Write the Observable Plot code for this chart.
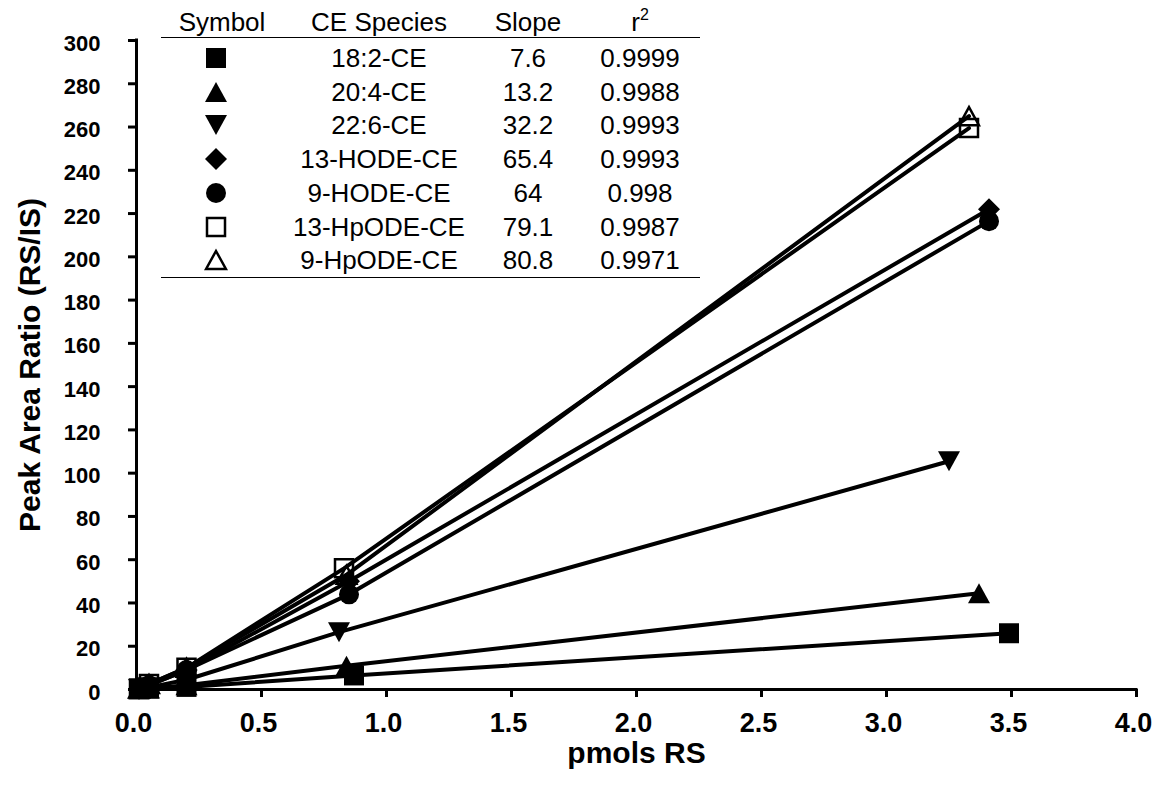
<!DOCTYPE html>
<html>
<head>
<meta charset="utf-8">
<script src="https://cdn.jsdelivr.net/npm/d3@7"></script>
<script src="https://cdn.jsdelivr.net/npm/@observablehq/plot@0.6"></script>
<style>
  body { margin: 0; background: #fff; font-family: "Liberation Sans", Arial, sans-serif; }
  #wrap { position: relative; width: 1164px; height: 787px; overflow: hidden; }
  #legend { position: absolute; left: 0; top: 0; width: 1164px; height: 300px; pointer-events: none; }
  .cell { position: absolute; transform: translate(-50%, -50%); font-size: 26px; color: #000; white-space: nowrap; line-height: 1; }
  .rule { position: absolute; height: 0; border-top: 1.5px solid #000; }
  .cell sup { font-size: 16px; position: relative; top: -2px; vertical-align: top; }
</style>
</head>
<body>
<div id="wrap"><div id="legend"></div></div>
<script>
// ---------- data ----------
const species = ["18:2-CE", "20:4-CE", "22:6-CE", "13-HODE-CE", "9-HODE-CE", "13-HpODE-CE", "9-HpODE-CE"];
const slopes  = ["7.6", "13.2", "32.2", "65.4", "64", "79.1", "80.8"];
const r2      = ["0.9999", "0.9988", "0.9993", "0.9993", "0.998", "0.9987", "0.9971"];
const markerKinds = ["square", "triUp", "triDown", "diamond", "circle", "square", "triUp"];
const markerFilled = [true, true, true, true, true, false, false];

// pmols RS (x) per species
const amounts = [
  [0.01, 0.05, 0.20, 0.87, 3.49],
  [0.01, 0.05, 0.20, 0.84, 3.37],
  [0.01, 0.05, 0.20, 0.81, 3.25],
  [0.01, 0.05, 0.20, 0.85, 3.41],
  [0.01, 0.05, 0.20, 0.85, 3.41],
  [0.01, 0.05, 0.20, 0.83, 3.33],
  [0.01, 0.05, 0.20, 0.84, 3.33]
];
// Peak area ratio (y) per species
const ratios = [
  [0.1, 0.4, 1.2, 6.5, 26.0],
  [0.1, 0.5, 2.0, 11.0, 44.5],
  [0.2, 1.0, 4.5, 26.5, 105.5],
  [0.4, 2.0, 9.0, 50.0, 222.0],
  [0.4, 2.0, 9.0, 44.0, 216.5],
  [0.5, 2.5, 10.0, 56.0, 259.5],
  [0.5, 2.5, 10.0, 53.0, 265.0]
];
const xTicks = [0, 0.5, 1, 1.5, 2, 2.5, 3, 3.5, 4];
const yTicks = d3.range(0, 301, 20);

// ---------- symbols ----------
const rOf = s => Math.sqrt(s / Math.PI);
const symbols = {
  square:  { draw(c, s) { const r = rOf(s); c.rect(-r, -r, 2 * r, 2 * r); } },
  triUp:   { draw(c, s) { const r = rOf(s); c.moveTo(0, -r); c.lineTo(1.1 * r, r); c.lineTo(-1.1 * r, r); c.closePath(); } },
  triDown: { draw(c, s) { const r = rOf(s); c.moveTo(0, r); c.lineTo(1.1 * r, -r); c.lineTo(-1.1 * r, -r); c.closePath(); } },
  diamond: { draw(c, s) { const r = rOf(s) * 1.1; c.moveTo(0, -r); c.lineTo(r, 0); c.lineTo(0, r); c.lineTo(-r, 0); c.closePath(); } },
  circle:  { draw(c, s) { const r = rOf(s); c.moveTo(r, 0); c.arc(0, 0, r, 0, 2 * Math.PI); } }
};

const rows = species.map((name, i) => amounts[i].map((x, j) => ({species: name, x, y: ratios[i][j]})));

const seriesMarks = [];
species.forEach((name, i) => {
  seriesMarks.push(Plot.line(rows[i], {x: "x", y: "y", stroke: "#000", strokeWidth: 4}));
  const filled = markerFilled[i];
  seriesMarks.push(Plot.dot(rows[i], {
    x: "x", y: "y",
    symbol: symbols[markerKinds[i]],
    r: filled ? 10 : 9,
    fill: filled ? "#000" : "none",
    stroke: filled ? "none" : "#000",
    strokeWidth: filled ? 0 : 2.5
  }));
});

const fmtX = d3.format(".1f");

const chart = Plot.plot({
  width: 1164,
  height: 787,
  marginLeft: 136,
  marginRight: 28,
  marginTop: 40,
  marginBottom: 98,
  x: {domain: [0, 4]},
  y: {domain: [0, 300]},
  style: {fontFamily: "'Liberation Sans', Arial, sans-serif", background: "white", color: "black", overflow: "visible"},
  marks: [
    Plot.axisX(xTicks, {tickSize: 8, tickFormat: () => "", strokeWidth: 3, label: null}),
    Plot.axisY(yTicks, {tickSize: 8, tickFormat: () => "", strokeWidth: 3, label: null}),
    Plot.text(xTicks, {x: d => d, text: d => fmtX(d), frameAnchor: "bottom", lineAnchor: "middle", dy: 34, dx: -3, fontSize: 27, fontWeight: "bold", fill: "#000"}),
    Plot.text(yTicks, {y: d => d, text: d => String(d), frameAnchor: "left", lineAnchor: "middle", dx: -36, dy: 3, textAnchor: "end", fontSize: 22, fontWeight: "bold", fill: "#000"}),
    Plot.ruleY([0], {x1: 0, x2: 4, strokeWidth: 3, strokeLinecap: "square"}),
    Plot.ruleX([0], {y1: 0, y2: 300, strokeWidth: 3, strokeLinecap: "square"}),
    ...seriesMarks,
    Plot.text(["pmols RS"], {frameAnchor: "bottom", lineAnchor: "middle", textAnchor: "middle", dy: 64, fontSize: 30, fontWeight: "bold", fill: "#000"}),
    Plot.text(["Peak Area Ratio (RS/IS)"], {frameAnchor: "left", lineAnchor: "middle", textAnchor: "middle", dx: -106, rotate: -90, fontSize: 30, fontWeight: "bold", fill: "#000"})
  ]
});
document.getElementById("wrap").prepend(chart);

// ---------- legend table ----------
const legend = d3.select("#legend");
const colX = [222, 379, 528, 640];
const headerY = 22, row0 = 58, rowStep = 33.7;
const lineLeft = 161, lineRight = 700;
function cell(x, y, html) {
  legend.append("div").attr("class", "cell").style("left", x + "px").style("top", y + "px").html(html);
}
cell(colX[0], headerY, "Symbol");
cell(colX[1], headerY, "CE Species");
cell(colX[2], headerY, "Slope");
cell(colX[3], headerY, "r<sup>2</sup>");
legend.append("div").attr("class", "rule").style("left", lineLeft + "px").style("top", "37px").style("width", (lineRight - lineLeft) + "px");
legend.append("div").attr("class", "rule").style("left", lineLeft + "px").style("top", "277px").style("width", (lineRight - lineLeft) + "px");
species.forEach((name, i) => {
  const y = row0 + i * rowStep;
  const filled = markerFilled[i];
  const r = filled ? 10 : 9;
  const p = d3.symbol(symbols[markerKinds[i]], Math.PI * r * r)();
  const svg = `<svg width="28" height="28" viewBox="-14 -14 28 28" style="display:block"><path d="${p}" fill="${filled ? '#000' : 'none'}" stroke="${filled ? 'none' : '#000'}" stroke-width="2.5"/></svg>`;
  cell(colX[0] - 6, y, svg);
  cell(colX[1], y, name);
  cell(colX[2], y, slopes[i]);
  cell(colX[3], y, r2[i]);
});
</script>
</body>
</html>
